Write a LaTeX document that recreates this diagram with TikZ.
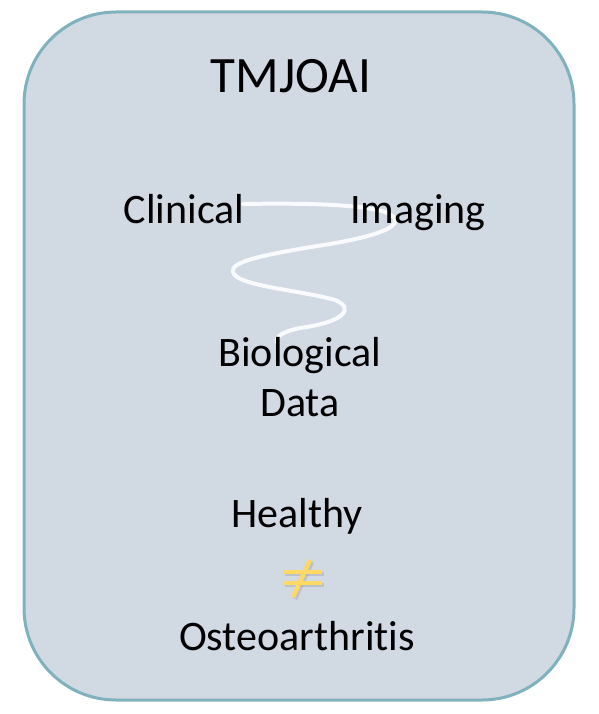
\documentclass[tikz,border=0pt]{standalone}
\usepackage{fontspec}
\setmainfont[Ligatures=NoCommon]{Carlito}
\usetikzlibrary{positioning}

\definecolor{boxfill}{HTML}{D1D9E3}
\definecolor{boxline}{HTML}{80B2BE}
\definecolor{neqgold}{HTML}{FFD966}

\tikzset{
  lbl/.style={font=\fontsize{42}{50}\selectfont, inner sep=0pt, align=center},
  neqbar/.style={line width=4.5pt},
}

\begin{document}
\begin{tikzpicture}[x=1pt,y=-1pt]

\useasboundingbox (0,0) rectangle (598,714);

\draw[boxline, fill=boxfill, line width=3pt, rounded corners=92pt] (24,12) rectangle (574,700);

% white thread behind the labels
\draw[white!88!boxfill, line width=4pt, line cap=round]
  (243,204) .. controls (300,203) and (360,204) .. (385,212)
  .. controls (405,220) and (400,232) .. (330,244)
  .. controls (260,255) and (230,262) .. (233,272)
  .. controls (236,286) and (300,290) .. (335,300)
  .. controls (355,308) and (345,322) .. (300,328)
  .. controls (285,331) and (275,336) .. (277,342);

\node[lbl, font=\fontsize{51}{58}\selectfont, anchor=base] (title) at (291,93) {TMJOAI};

\node[lbl, anchor=base] (clin) at (184,223) {Clinical};
\node[lbl, anchor=base] (img) at (418,223) {Imaging};
\node[lbl] (bio) at (300,377) {Biological\\Data};

\node[lbl, anchor=base] (healthy) at (297,527) {Healthy};
\node[lbl, anchor=base] (oa) at (297,650) {Osteoarthritis};

% not-equal sign with a soft shadow
\begin{scope}[shift={(2,2)}, black!40, opacity=.35]
\draw[neqbar] (283,572) -- (322,572);
\draw[neqbar] (283,583) -- (322,583);
\draw[neqbar] (310,560) -- (293,597);
\end{scope}
\begin{scope}[neqgold]
\draw[neqbar] (283,572) -- (322,572);
\draw[neqbar] (283,583) -- (322,583);
\draw[neqbar] (310,560) -- (293,597);
\end{scope}

\end{tikzpicture}
\end{document}
